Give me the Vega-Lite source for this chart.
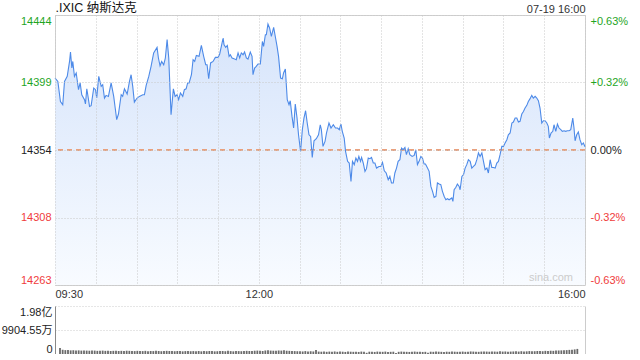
{
  "$schema": "https://vega.github.io/schema/vega-lite/v6.json",
  "background": "white",
  "padding": {"left": 1, "top": 0, "right": 5, "bottom": 0},
  "config": {
    "font": "Liberation Sans, Noto Sans CJK SC, sans-serif",
    "axis": {"labelFont": "Liberation Sans, Noto Sans CJK SC, sans-serif", "labelFontSize": 11, "ticks": false, "domain": false, "title": null}
  },
  "datasets": {
    "px": [
      {"m":0,"p":14402.2},{"m":2.1,"p":14399.9},{"m":4,"p":14386.5},{"m":5.7,"p":14384.3},{"m":7,"p":14399.9},{"m":9,"p":14403.3},{"m":10.7,"p":14413.3},{"m":11.4,"p":14419.6},{"m":12.4,"p":14408.9},{"m":13.1,"p":14413.3},
      {"m":14.3,"p":14403.3},{"m":15.6,"p":14405.6},{"m":17.3,"p":14394.4},{"m":18.5,"p":14398.9},{"m":19.7,"p":14391.0},{"m":21.7,"p":14387.7},{"m":22.4,"p":14384.8},{"m":23.4,"p":14395.0},{"m":24.1,"p":14391.0},{"m":25.4,"p":14383.2},
      {"m":26.6,"p":14383.7},{"m":28.5,"p":14395.5},{"m":29.8,"p":14394.4},{"m":30.7,"p":14388.8},{"m":32.2,"p":14403.3},{"m":34,"p":14396.6},{"m":35.1,"p":14397.7},{"m":36.4,"p":14388.8},{"m":37.6,"p":14390.6},{"m":39.3,"p":14389.9},
      {"m":41.3,"p":14398.9},{"m":43.2,"p":14389.9},{"m":44.3,"p":14382.1},{"m":45.4,"p":14374.3},{"m":46.7,"p":14378.1},{"m":48.7,"p":14391.0},{"m":49.8,"p":14389.9},{"m":51.1,"p":14395.0},{"m":53.1,"p":14391.5},{"m":54.8,"p":14399.9},
      {"m":56,"p":14404.4},{"m":57.2,"p":14396.6},{"m":58.4,"p":14386.1},{"m":60.4,"p":14388.8},{"m":62.1,"p":14389.9},{"m":64.6,"p":14391.0},{"m":65.8,"p":14391.0},{"m":67.1,"p":14397.3},{"m":69,"p":14403.3},{"m":70.7,"p":14410.0},
      {"m":72.6,"p":14419.0},{"m":75.1,"p":14422.7},{"m":76.1,"p":14415.6},{"m":77.3,"p":14410.4},{"m":78.5,"p":14413.3},{"m":80,"p":14411.1},{"m":81.2,"p":14415.6},{"m":82.5,"p":14427.9},{"m":83.7,"p":14415.6},{"m":85.4,"p":14377.6},
      {"m":87.1,"p":14395.0},{"m":88.4,"p":14389.9},{"m":89.8,"p":14391.0},{"m":91,"p":14387.7},{"m":92.3,"p":14392.2},{"m":94,"p":14389.9},{"m":95.2,"p":14394.4},{"m":96.5,"p":14395.0},{"m":97.6,"p":14398.9},{"m":98.7,"p":14398.9},
      {"m":100.4,"p":14404.4},{"m":101.6,"p":14414.5},{"m":102.8,"p":14413.3},{"m":104,"p":14417.3},{"m":106,"p":14416.7},{"m":107.7,"p":14424.0},{"m":109.4,"p":14416.7},{"m":110.9,"p":14411.1},{"m":111.9,"p":14411.1},{"m":113.1,"p":14401.7},
      {"m":114.5,"p":14412.3},{"m":116.3,"p":14413.3},{"m":118,"p":14416.0},{"m":120,"p":14416.0},{"m":121.2,"p":14418.3},{"m":122.4,"p":14423.4},{"m":123.7,"p":14429.0},{"m":124.4,"p":14424.5},{"m":125.6,"p":14422.7},{"m":126.8,"p":14424.0},
      {"m":128.1,"p":14416.7},{"m":129,"p":14417.8},{"m":130.3,"p":14415.6},{"m":132.2,"p":14414.9},{"m":133.4,"p":14414.5},{"m":134.7,"p":14419.0},{"m":135.9,"p":14415.6},{"m":137.1,"p":14419.0},{"m":138.4,"p":14417.8},{"m":139.5,"p":14419.6},
      {"m":140.8,"p":14415.6},{"m":142,"p":14414.9},{"m":143.7,"p":14419.6},{"m":145,"p":14416.7},{"m":145.7,"p":14404.4},{"m":146.9,"p":14408.9},{"m":148.1,"p":14410.0},{"m":149.4,"p":14411.6},{"m":151.1,"p":14411.6},{"m":152.6,"p":14426.7},
      {"m":153.5,"p":14423.4},{"m":154.8,"p":14431.2},{"m":155.5,"p":14431.2},{"m":156.7,"p":14438.4},{"m":157.9,"p":14435.7},{"m":159.2,"p":14430.1},{"m":160.9,"p":14436.1},{"m":162.3,"p":14429.0},{"m":163.4,"p":14423.4},{"m":164.5,"p":14416.7},
      {"m":166,"p":14402.2},{"m":167.3,"p":14401.7},{"m":168.2,"p":14405.6},{"m":169.5,"p":14408.2},{"m":170.9,"p":14387.7},{"m":172.2,"p":14384.3},{"m":173.1,"p":14387.0},{"m":174.4,"p":14376.5},{"m":175.6,"p":14368.7},{"m":176.8,"p":14384.8},
      {"m":178.1,"p":14375.4},{"m":179.2,"p":14364.2},{"m":180.7,"p":14353.1},{"m":182,"p":14367.6},{"m":183.2,"p":14375.4},{"m":184.4,"p":14380.3},{"m":185.6,"p":14372.1},{"m":186.9,"p":14364.2},{"m":188.1,"p":14363.1},{"m":189.3,"p":14349.0},
      {"m":190.6,"p":14360.2},{"m":192.3,"p":14361.6},{"m":193.9,"p":14364.2},{"m":195.2,"p":14370.9},{"m":196,"p":14367.6},{"m":197.2,"p":14356.4},{"m":198.7,"p":14359.8},{"m":199.8,"p":14365.4},{"m":201.6,"p":14372.1},{"m":203.1,"p":14368.7},
      {"m":204.8,"p":14370.9},{"m":206.4,"p":14368.7},{"m":207.9,"p":14368.7},{"m":209.2,"p":14367.6},{"m":210.4,"p":14371.4},{"m":211.4,"p":14366.5},{"m":212.8,"p":14362.0},{"m":213.8,"p":14353.1},{"m":215.3,"p":14346.4},{"m":216.5,"p":14345.3},
      {"m":217.8,"p":14333.0},{"m":218.9,"p":14346.4},{"m":220.2,"p":14344.2},{"m":221.4,"p":14348.6},{"m":222.6,"p":14346.4},{"m":223.6,"p":14349.7},{"m":224.8,"p":14346.4},{"m":225.6,"p":14349.0},{"m":226.8,"p":14345.3},{"m":228.1,"p":14339.7},
      {"m":229.2,"p":14341.5},{"m":230.5,"p":14348.6},{"m":231.7,"p":14348.2},{"m":232.9,"p":14349.0},{"m":234.2,"p":14345.3},{"m":235.4,"p":14345.3},{"m":236.6,"p":14341.9},{"m":238.4,"p":14343.0},{"m":239.8,"p":14343.0},{"m":241,"p":14345.7},
      {"m":242.3,"p":14340.1},{"m":243.7,"p":14338.6},{"m":245.2,"p":14334.1},{"m":246.4,"p":14336.3},{"m":247.6,"p":14331.9},{"m":248.9,"p":14331.9},{"m":250.1,"p":14338.6},{"m":251.3,"p":14341.9},{"m":252.5,"p":14346.4},{"m":253.8,"p":14347.5},
      {"m":255,"p":14355.3},{"m":256.2,"p":14354.2},{"m":257.5,"p":14355.7},{"m":258.6,"p":14350.9},{"m":259.9,"p":14354.9},{"m":261.1,"p":14350.9},{"m":262.8,"p":14349.7},{"m":264.3,"p":14350.4},{"m":265.5,"p":14354.2},{"m":266.7,"p":14344.2},
      {"m":267.9,"p":14346.4},{"m":269.2,"p":14349.7},{"m":270.4,"p":14348.6},{"m":271.6,"p":14344.6},{"m":272.6,"p":14344.6},{"m":274.1,"p":14341.9},{"m":275.3,"p":14339.7},{"m":276.6,"p":14329.6},{"m":277.8,"p":14326.3},{"m":279,"p":14322.3},
      {"m":280.3,"p":14322.9},{"m":281.4,"p":14331.9},{"m":282.7,"p":14331.2},{"m":283.9,"p":14330.8},{"m":285.1,"p":14326.3},{"m":286.4,"p":14322.9},{"m":287.6,"p":14320.7},{"m":288.8,"p":14321.4},{"m":290,"p":14320.7},{"m":292,"p":14321.9},
      {"m":292.8,"p":14319.6},{"m":293.7,"p":14327.4},{"m":295,"p":14329.0},{"m":296.1,"p":14331.2},{"m":297.4,"p":14329.6},{"m":298.1,"p":14327.4},{"m":299.4,"p":14336.3},{"m":300.6,"p":14337.5},{"m":301.8,"p":14341.9},{"m":303,"p":14344.2},
      {"m":304.2,"p":14347.5},{"m":305.5,"p":14346.4},{"m":306.7,"p":14341.9},{"m":307.9,"p":14343.0},{"m":309.2,"p":14344.2},{"m":310.4,"p":14347.5},{"m":311.6,"p":14352.0},{"m":312.8,"p":14349.7},{"m":314.1,"p":14352.0},{"m":315.3,"p":14346.4},
      {"m":316.5,"p":14340.8},{"m":317.8,"p":14341.9},{"m":318.9,"p":14338.6},{"m":320.2,"p":14347.5},{"m":321.4,"p":14342.3},{"m":322.6,"p":14342.3},{"m":323.9,"p":14341.9},{"m":325.1,"p":14345.3},{"m":326.3,"p":14346.4},{"m":327.5,"p":14350.9},
      {"m":328.8,"p":14356.4},{"m":330,"p":14356.4},{"m":331.2,"p":14358.7},{"m":332.5,"p":14360.9},{"m":333.6,"p":14364.2},{"m":334.9,"p":14365.4},{"m":336.2,"p":14372.1},{"m":337.3,"p":14372.7},{"m":338.6,"p":14375.4},{"m":339.8,"p":14375.4},
      {"m":341,"p":14372.7},{"m":342.2,"p":14373.2},{"m":343.5,"p":14378.1},{"m":344.7,"p":14379.8},{"m":345.9,"p":14382.1},{"m":347.2,"p":14383.9},{"m":348.3,"p":14386.5},{"m":349.6,"p":14388.4},{"m":350.8,"p":14390.6},{"m":352,"p":14388.8},
      {"m":353.3,"p":14389.9},{"m":354.5,"p":14388.8},{"m":355.7,"p":14387.0},{"m":356.9,"p":14382.1},{"m":358.2,"p":14372.1},{"m":359.4,"p":14373.6},{"m":360.6,"p":14373.6},{"m":361.9,"p":14372.1},{"m":363,"p":14369.8},{"m":363.8,"p":14362.0},
      {"m":365,"p":14365.4},{"m":366.3,"p":14366.5},{"m":367.2,"p":14370.9},{"m":368.5,"p":14366.5},{"m":369.7,"p":14371.4},{"m":370.9,"p":14368.7},{"m":372.2,"p":14367.6},{"m":373.3,"p":14366.5},{"m":374.6,"p":14366.9},{"m":375.8,"p":14366.5},
      {"m":377,"p":14366.9},{"m":378.3,"p":14366.9},{"m":379.5,"p":14367.6},{"m":381,"p":14375.4},{"m":381.9,"p":14368.7},{"m":382.7,"p":14360.2},{"m":383.9,"p":14364.2},{"m":385.1,"p":14366.1},{"m":386.3,"p":14360.9},{"m":387.6,"p":14357.5},
      {"m":388.8,"p":14358.7},{"m":390,"p":14356.2}
    ],
    "vol": [
      {"t":0,"v":2500},{"t":2,"v":1750},{"t":4,"v":1600},{"t":6,"v":1650},{"t":8,"v":1500},{"t":10,"v":1550},{"t":12,"v":1450},{"t":14,"v":1500},{"t":16,"v":1400},{"t":18,"v":1450},
      {"t":20,"v":1400},{"t":22,"v":1350},{"t":24,"v":1450},{"t":26,"v":1400},{"t":28,"v":1300},{"t":30,"v":1350},{"t":32,"v":1400},{"t":34,"v":1300},{"t":36,"v":1350},{"t":38,"v":1250},
      {"t":40,"v":1300},{"t":42,"v":1350},{"t":44,"v":1250},{"t":46,"v":1300},{"t":48,"v":1200},{"t":50,"v":1350},{"t":52,"v":1300},{"t":54,"v":1250},{"t":56,"v":1200},{"t":58,"v":1300},
      {"t":60,"v":1250},{"t":62,"v":1200},{"t":64,"v":1300},{"t":66,"v":1150},{"t":68,"v":1250},{"t":70,"v":1200},{"t":72,"v":1300},{"t":74,"v":1250},{"t":76,"v":1150},{"t":78,"v":1200},
      {"t":80,"v":1300},{"t":82,"v":1250},{"t":84,"v":1200},{"t":86,"v":1150},{"t":88,"v":1250},{"t":90,"v":1200},{"t":92,"v":1100},{"t":94,"v":1200},{"t":96,"v":1250},{"t":98,"v":1150},
      {"t":100,"v":1200},{"t":102,"v":1150},{"t":104,"v":1250},{"t":106,"v":1100},{"t":108,"v":1200},{"t":110,"v":1150},{"t":112,"v":1250},{"t":114,"v":1200},{"t":116,"v":1100},{"t":118,"v":1150},
      {"t":120,"v":1200},{"t":122,"v":1250},{"t":124,"v":1150},{"t":126,"v":1300},{"t":128,"v":1200},{"t":130,"v":1100},{"t":132,"v":1250},{"t":134,"v":1200},{"t":136,"v":1150},{"t":138,"v":1250},
      {"t":140,"v":1300},{"t":142,"v":1250},{"t":144,"v":1200},{"t":146,"v":1350},{"t":148,"v":1400},{"t":150,"v":1300},{"t":152,"v":1250},{"t":154,"v":1450},{"t":156,"v":1500},{"t":158,"v":1400},
      {"t":160,"v":1350},{"t":162,"v":1300},{"t":164,"v":1450},{"t":166,"v":1400},{"t":168,"v":1500},{"t":170,"v":1350},{"t":172,"v":1300},{"t":174,"v":1250},{"t":176,"v":1200},{"t":178,"v":1150},
      {"t":180,"v":1100},{"t":182,"v":1050},{"t":184,"v":1200},{"t":186,"v":1000},{"t":188,"v":1100},{"t":190,"v":1050},{"t":192,"v":1700},{"t":194,"v":1000},{"t":196,"v":950},{"t":198,"v":1050},
      {"t":200,"v":900},{"t":202,"v":1000},{"t":204,"v":950},{"t":206,"v":1050},{"t":208,"v":900},{"t":210,"v":1000},{"t":212,"v":950},{"t":214,"v":850},{"t":216,"v":1000},{"t":218,"v":950},
      {"t":220,"v":900},{"t":222,"v":950},{"t":224,"v":850},{"t":226,"v":1000},{"t":228,"v":900},{"t":230,"v":500},{"t":232,"v":950},{"t":234,"v":900},{"t":236,"v":850},{"t":238,"v":1000},
      {"t":240,"v":950},{"t":242,"v":900},{"t":244,"v":1000},{"t":246,"v":850},{"t":248,"v":900},{"t":250,"v":950},{"t":252,"v":450},{"t":254,"v":900},{"t":256,"v":1000},{"t":258,"v":950},
      {"t":260,"v":900},{"t":262,"v":850},{"t":264,"v":950},{"t":266,"v":1000},{"t":268,"v":900},{"t":270,"v":950},{"t":272,"v":850},{"t":274,"v":900},{"t":276,"v":500},{"t":278,"v":950},
      {"t":280,"v":900},{"t":282,"v":1000},{"t":284,"v":950},{"t":286,"v":900},{"t":288,"v":850},{"t":290,"v":950},{"t":292,"v":900},{"t":294,"v":1000},{"t":296,"v":950},{"t":298,"v":900},
      {"t":300,"v":950},{"t":302,"v":1000},{"t":304,"v":900},{"t":306,"v":950},{"t":308,"v":1050},{"t":310,"v":1000},{"t":312,"v":950},{"t":314,"v":900},{"t":316,"v":1000},{"t":318,"v":1050},
      {"t":320,"v":1000},{"t":322,"v":950},{"t":324,"v":1050},{"t":326,"v":1000},{"t":328,"v":950},{"t":330,"v":1100},{"t":332,"v":1000},{"t":334,"v":1050},{"t":336,"v":950},{"t":338,"v":1000},
      {"t":340,"v":1050},{"t":342,"v":1100},{"t":344,"v":1000},{"t":346,"v":1150},{"t":348,"v":1050},{"t":350,"v":1100},{"t":352,"v":1200},{"t":354,"v":1100},{"t":356,"v":1150},{"t":358,"v":1250},
      {"t":360,"v":1200},{"t":362,"v":1150},{"t":364,"v":1300},{"t":366,"v":1250},{"t":368,"v":1350},{"t":370,"v":1300},{"t":372,"v":1400},{"t":374,"v":1450},{"t":376,"v":1500},{"t":378,"v":1550},
      {"t":380,"v":1600},{"t":382,"v":1700},{"t":384,"v":1800},{"t":386,"v":1900},{"t":388,"v":2100}
    ]
  },
  "spacing": 21,
  "bounds": "flush",
  "vconcat": [
    {
      "width": 530,
      "height": 270,
      "view": {"stroke": "#d0d0d0"},
      "data": {"name": "px"},
      "layer": [
        {
          "mark": {"type": "area", "color": {"gradient": "linear", "x1": 0, "y1": 0, "x2": 0, "y2": 1, "stops": [{"offset": 0, "color": "#d6e4fb"}, {"offset": 1, "color": "#f8fbff"}]}},
          "encoding": {
            "x": {"field": "m", "type": "quantitative", "scale": {"domain": [0, 390], "nice": false},
              "axis": {"orient": "bottom", "zindex": 1, "values": [0,30,60,90,120,150,180,210,240,270,300,330,360,390], "labelExpr": "datum.value == 0 ? '09:30' : datum.value == 150 ? '12:00' : datum.value == 390 ? '16:00' : ''", "labelFlush": true, "labelOverlap": false, "labelPadding": 3, "labelColor": "#333", "grid": true, "gridColor": "#c8c8c8", "gridDash": [1, 2]}},
            "y": {"field": "p", "type": "quantitative", "scale": {"domain": [14263.6, 14444.4], "nice": false, "zero": false},
              "axis": {"orient": "left", "zindex": 1, "values": [14263.6, 14308.8, 14354, 14399.2, 14444.4], "labelExpr": "'' + floor(datum.value)", "labelFlush": true, "labelOverlap": false, "labelPadding": 4,
                "labelColor": {"condition": [{"test": "datum.value > 14360", "value": "#1fa51f"}, {"test": "datum.value < 14350", "value": "#f03c3c"}], "value": "#222222"},
                "grid": true, "gridColor": "#c8c8c8", "gridDash": [1, 2]}},
            "y2": {"datum": 14263.6}
          }
        },
        {
          "mark": {"type": "rule", "color": "#e8a07f", "strokeDash": [5, 4], "strokeWidth": 1},
          "encoding": {"y": {"datum": 14354, "type": "quantitative", "axis": null}}
        },
        {
          "mark": {"type": "line", "color": "#4d8ae8", "strokeWidth": 1.1},
          "encoding": {
            "x": {"field": "m", "type": "quantitative",
              "axis": {"orient": "top", "values": [0, 390], "labelExpr": "datum.value == 0 ? '.IXIC 纳斯达克' : '07-19 16:00'", "labelFlush": true, "labelOverlap": false, "labelPadding": 1, "grid": false,
                "labelColor": {"condition": {"test": "datum.value == 0", "value": "#111111"}, "value": "#333333"},
                "labelFontSize": {"condition": {"test": "datum.value == 0", "value": 12.5}, "value": 11}}},
            "y": {"field": "p", "type": "quantitative",
              "axis": {"orient": "right", "values": [14263.6, 14308.8, 14354, 14399.2, 14444.4], "labelExpr": "datum.value > 14420 ? '+0.63%' : datum.value > 14380 ? '+0.32%' : datum.value > 14330 ? '0.00%' : datum.value > 14290 ? '-0.32%' : '-0.63%'", "labelFlush": true, "labelOverlap": false, "labelPadding": 5, "grid": false,
                "labelColor": {"condition": [{"test": "datum.value > 14360", "value": "#1fa51f"}, {"test": "datum.value < 14350", "value": "#f03c3c"}], "value": "#222222"}}}
          }
        },
        {
          "data": {"values": [{"wm": "sina.com"}]},
          "mark": {"type": "text", "color": "#cccccc", "fontSize": 11},
          "encoding": {
            "text": {"field": "wm"},
            "x": {"datum": 365, "type": "quantitative", "axis": null},
            "y": {"datum": 14268.5, "type": "quantitative", "axis": null}
          }
        }
      ],
      "resolve": {"axis": {"x": "independent", "y": "independent"}}
    },
    {
      "width": 530,
      "height": 48,
      "view": {"stroke": null},
      "data": {"name": "vol"},
      "layer": [
        {
          "mark": {"type": "bar", "color": "#6a6a6a", "width": 1.8},
          "encoding": {
            "x": {"field": "t", "type": "quantitative", "scale": {"domain": [0, 390], "nice": false}, "axis": null},
            "y": {"field": "v", "type": "quantitative", "scale": {"domain": [0, 19809.1], "nice": false},
              "axis": {"orient": "left", "values": [0, 9904.55, 19809.1], "labelExpr": "datum.value == 0 ? '0' : datum.value < 10000 ? '9904.55万' : '1.98亿'", "labelFlush": true, "labelOverlap": false, "labelPadding": 3, "labelColor": "#222",
                "domain": true, "domainColor": "#888888", "grid": true, "gridColor": "#cccccc", "gridDash": [1, 2],
                "gridOpacity": {"condition": {"test": "datum.value == 0", "value": 0}, "value": 1}}}
          }
        },
        {
          "mark": {"type": "bar", "opacity": 0, "width": 1},
          "encoding": {
            "x": {"field": "t", "type": "quantitative", "axis": null},
            "y": {"field": "v", "type": "quantitative",
              "axis": {"orient": "right", "labels": false, "grid": false, "domain": true, "domainColor": "#cccccc"}}
          }
        }
      ],
      "resolve": {"axis": {"y": "independent"}}
    }
  ]
}
